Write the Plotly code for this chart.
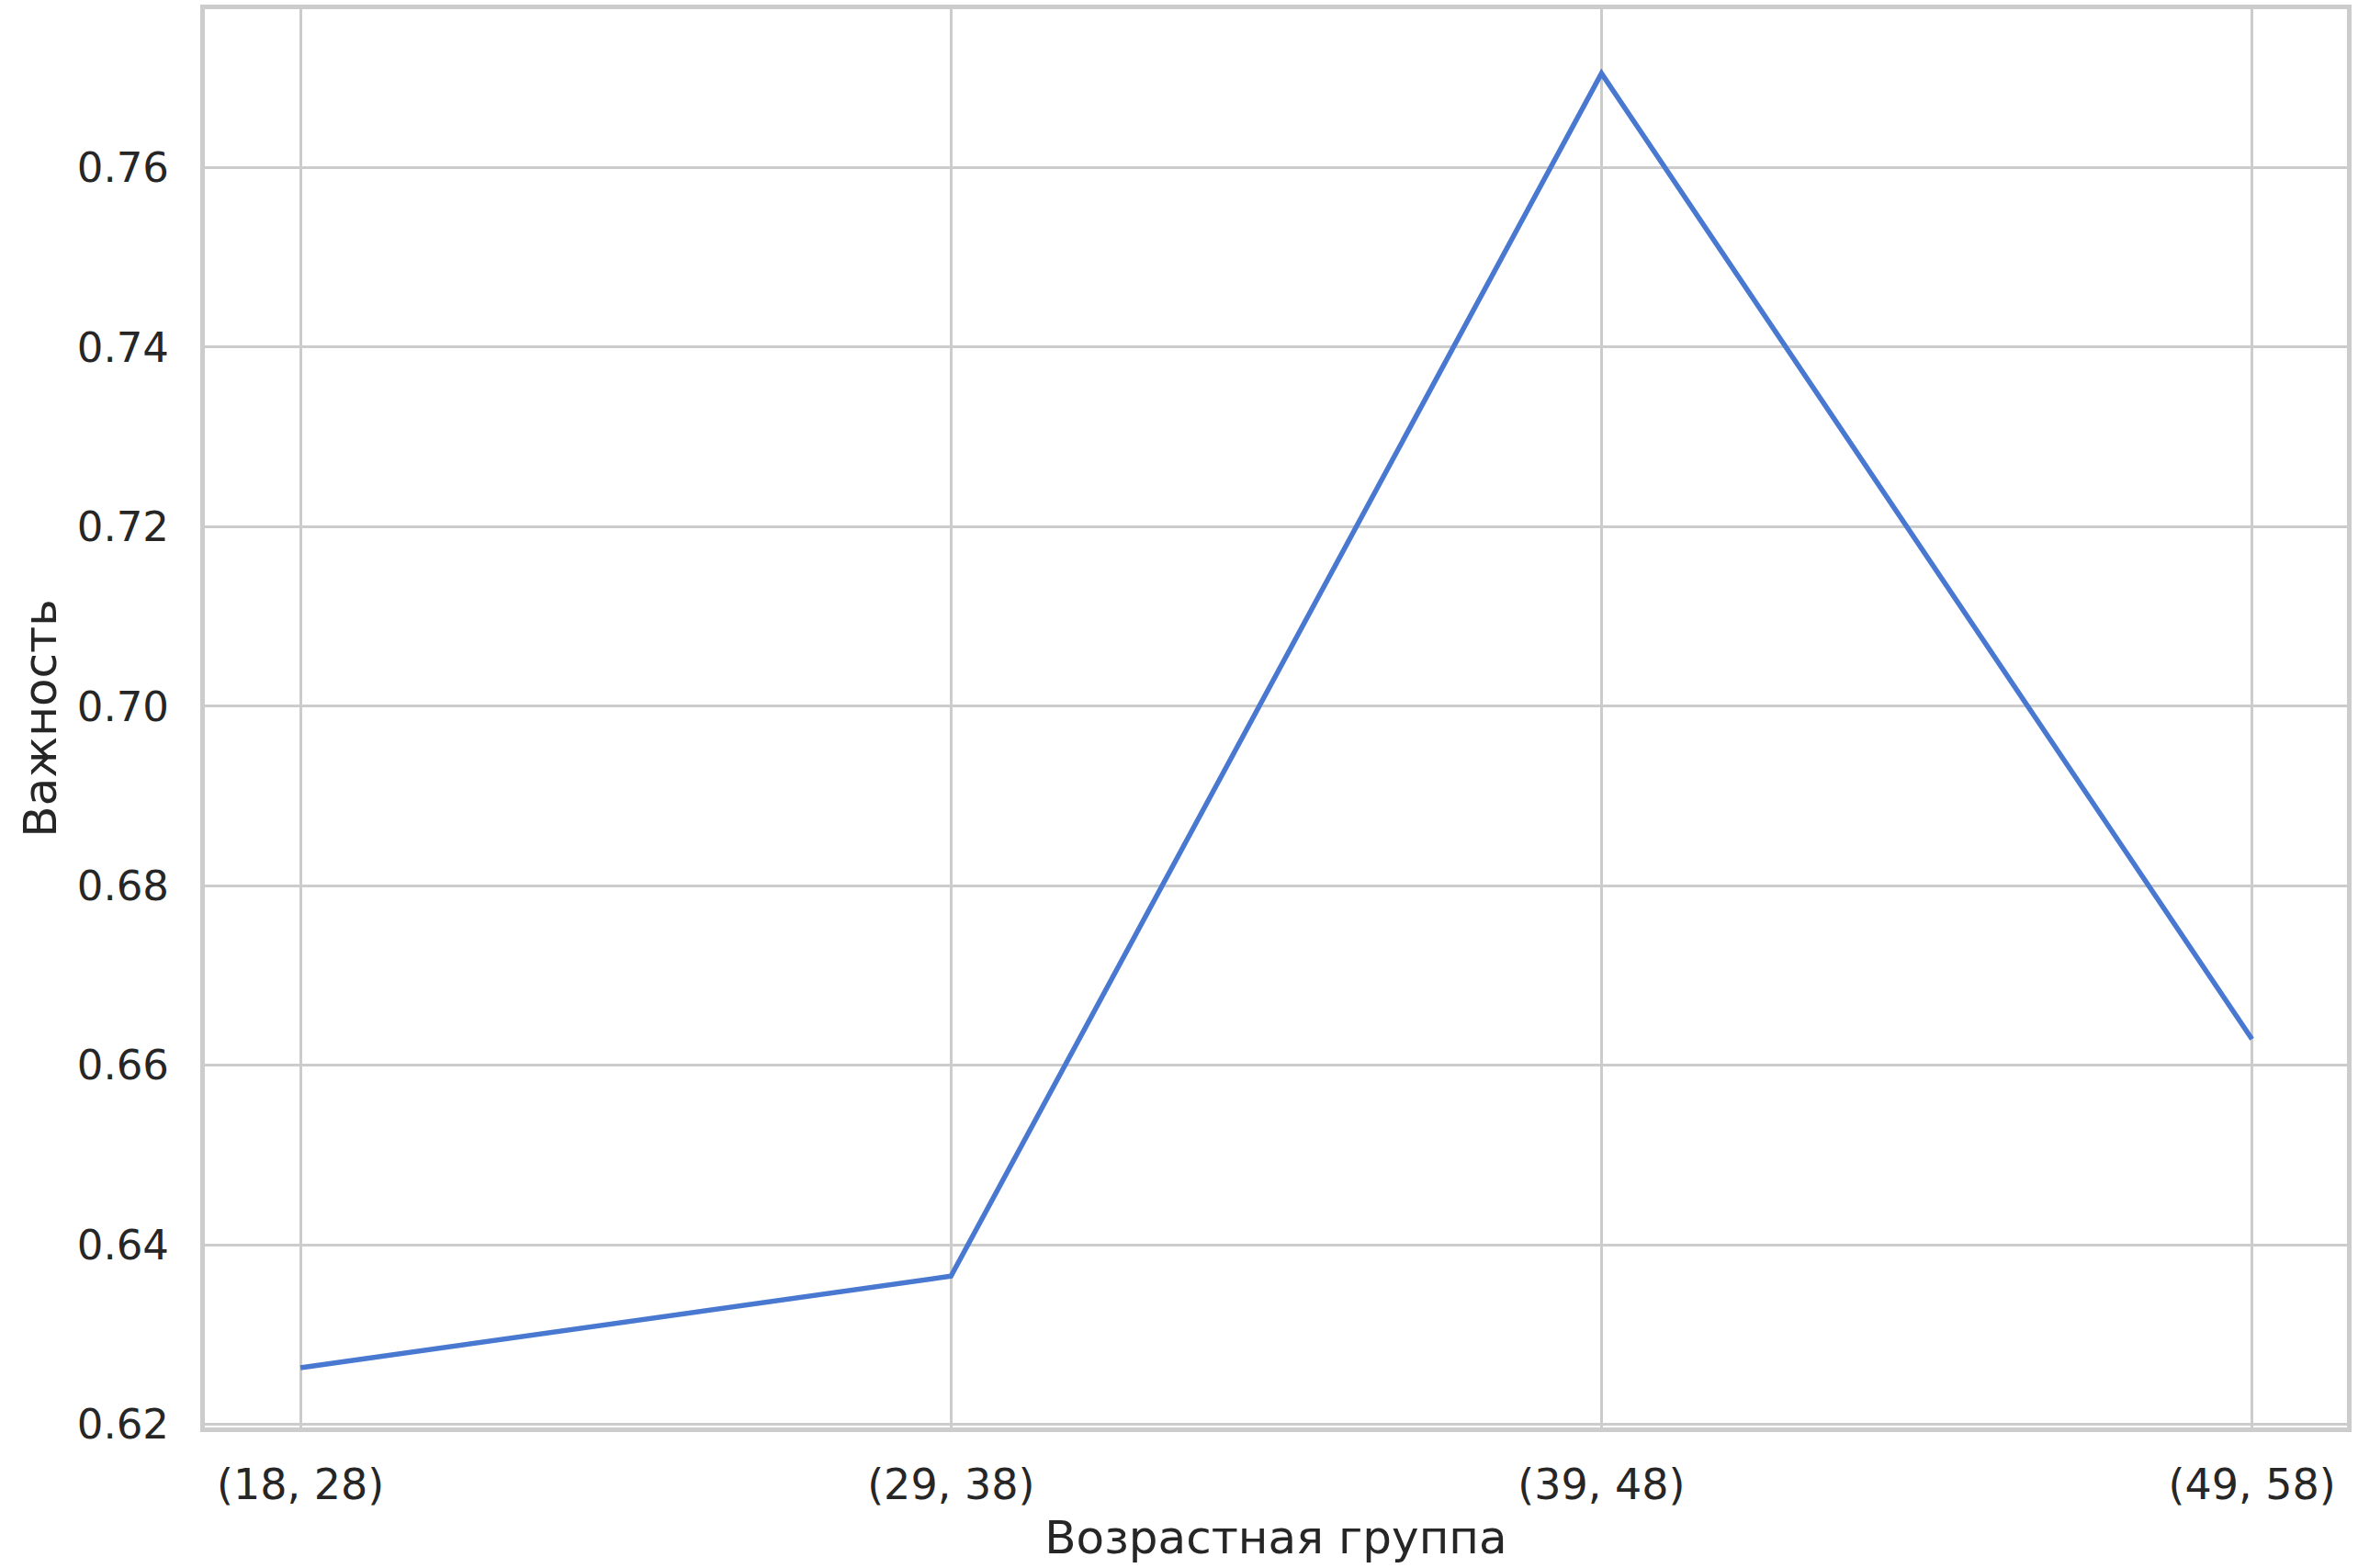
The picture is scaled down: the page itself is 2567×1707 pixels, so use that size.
import plotly.graph_objects as go

age_groups = ["(18, 28)", "(29, 38)", "(39, 48)", "(49, 58)"]
importance = [0.6263, 0.6365, 0.7705, 0.6629]
y_ticks = [0.62, 0.64, 0.66, 0.68, 0.70, 0.72, 0.74, 0.76]
y_tick_labels = ["0.62", "0.64", "0.66", "0.68", "0.70", "0.72", "0.74", "0.76"]

x_title = "Возрастная группа"
y_title = "Важность"

TEXT = "#262626"
GRID = "#cccccc"
FONT = "DejaVu Sans"

fig = go.Figure()
fig.add_trace(go.Scatter(
    x=list(range(len(age_groups))),
    y=importance,
    mode="lines",
    line=dict(color="#4878d0", width=5.5),
    showlegend=False,
    hoverinfo="skip",
))

fig.update_layout(
    width=2567,
    height=1707,
    paper_bgcolor="white",
    plot_bgcolor="white",
    margin=dict(l=223, r=12, t=10, b=153, autoexpand=False),
    font=dict(family=FONT, color=TEXT, size=46),
)

fig.update_xaxes(
    range=[-0.147, 3.146],
    tickmode="array",
    tickvals=list(range(len(age_groups))),
    ticktext=age_groups,
    tickfont=dict(size=46, color=TEXT, family=FONT),
    showgrid=True, gridcolor=GRID, gridwidth=3,
    showline=True, linecolor=GRID, linewidth=5, mirror=True,
    ticks="outside", ticklen=18, tickcolor="rgba(0,0,0,0)",
    zeroline=False,
    title=dict(text=x_title, font=dict(size=50, color=TEXT, family=FONT), standoff=15),
)

fig.update_yaxes(
    range=[0.61964, 0.77765],
    tickmode="array",
    tickvals=y_ticks,
    ticktext=y_tick_labels,
    tickfont=dict(size=45, color=TEXT, family=FONT),
    showgrid=True, gridcolor=GRID, gridwidth=3,
    showline=True, linecolor=GRID, linewidth=5, mirror=True,
    ticks="outside", ticklen=25, tickcolor="rgba(0,0,0,0)",
    zeroline=False,
    title=dict(text=y_title, font=dict(size=50, color=TEXT, family=FONT), standoff=8),
)

fig.write_html(
    "out.html",
    config={"displayModeBar": False},
    post_script="document.body.style.margin='0';",
)
